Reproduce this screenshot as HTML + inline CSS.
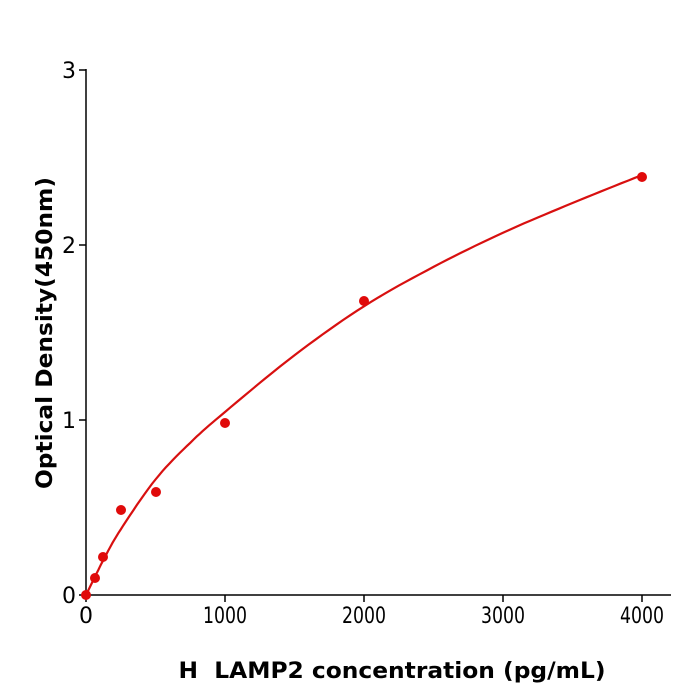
<!DOCTYPE html>
<html><head><style>body{margin:0;background:#fff}svg{display:block}</style></head>
<body>
<svg id="s" width="700" height="700" xmlns="http://www.w3.org/2000/svg" font-family="DejaVu Sans, Liberation Sans, sans-serif">
<rect width="700" height="700" fill="#fff"/>
<g stroke="#000" stroke-width="1.5" fill="none">
<line x1="86" y1="69" x2="86" y2="596"/>
<line x1="85" y1="595" x2="671" y2="595"/>
<line x1="79" y1="595" x2="86" y2="595"/>
<line x1="79" y1="420" x2="86" y2="420"/>
<line x1="79" y1="245" x2="86" y2="245"/>
<line x1="79" y1="70" x2="86" y2="70"/>
<line x1="86" y1="595" x2="86" y2="602"/>
<line x1="225" y1="595" x2="225" y2="602"/>
<line x1="364" y1="595" x2="364" y2="602"/>
<line x1="503" y1="595" x2="503" y2="602"/>
<line x1="642" y1="595" x2="642" y2="602"/>
</g>
<g font-size="22" text-anchor="end" fill="#000">
<text x="76" y="603">0</text>
<text x="76" y="428">1</text>
<text x="76" y="253">2</text>
<text x="76" y="78">3</text>
</g>
<g font-size="22" text-anchor="middle" fill="#000">
<text x="86" y="623">0</text>
<text x="225" y="623" textLength="44" lengthAdjust="spacingAndGlyphs">1000</text>
<text x="364" y="623" textLength="44" lengthAdjust="spacingAndGlyphs">2000</text>
<text x="503" y="623" textLength="44" lengthAdjust="spacingAndGlyphs">3000</text>
<text x="642" y="623" textLength="44" lengthAdjust="spacingAndGlyphs">4000</text>
</g>
<text x="392" y="678" font-size="22" font-weight="bold" text-anchor="middle" textLength="427" lengthAdjust="spacingAndGlyphs">H&#160; LAMP2 concentration (pg/mL)</text>
<text transform="translate(52,333) rotate(-90)" font-size="22" font-weight="bold" text-anchor="middle" textLength="312" lengthAdjust="spacingAndGlyphs">Optical Density(450nm)</text>
<path id="c" fill="none" stroke="#d81010" stroke-width="2.2"/>
<g fill="#e00a0a">
<circle cx="86" cy="595" r="5"/>
<circle cx="95" cy="578" r="5"/>
<circle cx="103" cy="557" r="5"/>
<circle cx="121" cy="510" r="5"/>
<circle cx="156" cy="492" r="5"/>
<circle cx="225" cy="423" r="5"/>
<circle cx="364" cy="301" r="5"/>
<circle cx="642" cy="177" r="5"/>
</g>
</svg>
<script>
var v=[[0,0],[125,0.2],[250,0.375],[500,0.66],[750,0.87],[1000,1.046],[1500,1.37],[2000,1.65],[2500,1.875],[3000,2.07],[3500,2.24],[4000,2.4]];
var p=v.map(function(a){return [86+a[0]*0.139,595-a[1]*175]});
p.unshift([p[0][0]-(p[1][0]-p[0][0]),p[0][1]-(p[1][1]-p[0][1])]);
var n=p.length;p.push([2*p[n-1][0]-p[n-2][0],2*p[n-1][1]-p[n-2][1]]);
var d="M"+p[1][0]+","+p[1][1];
for(var i=1;i<p.length-2;i++){var p0=p[i-1],p1=p[i],p2=p[i+1],p3=p[i+2];
for(var t=0.1;t<=1.001;t+=0.1){var t2=t*t,t3=t2*t;
var f=function(a,b,c,e){return 0.5*(2*b+(-a+c)*t+(2*a-5*b+4*c-e)*t2+(-a+3*b-3*c+e)*t3)};
d+=" L"+f(p0[0],p1[0],p2[0],p3[0]).toFixed(1)+","+f(p0[1],p1[1],p2[1],p3[1]).toFixed(1);}}
document.getElementById("c").setAttribute("d",d);
</script>
</body></html>
